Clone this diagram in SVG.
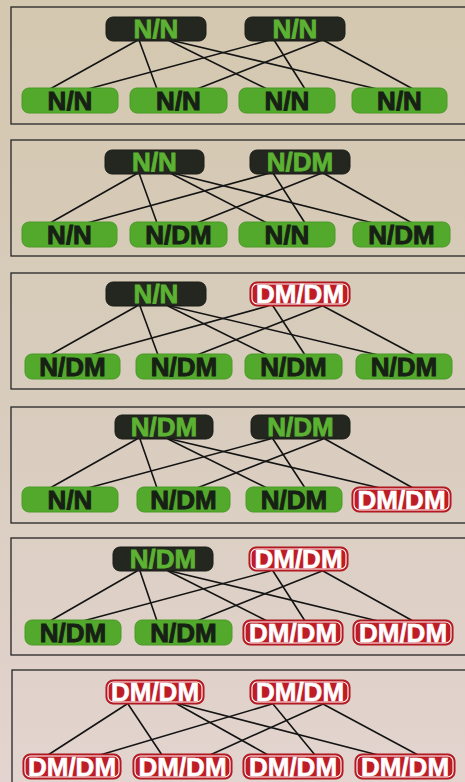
<svg xmlns="http://www.w3.org/2000/svg" width="465" height="782" viewBox="0 0 465 782">
<defs>
<linearGradient id="bg" x1="0" y1="0" x2="0" y2="1">
<stop offset="0" stop-color="#d4c8b0"/>
<stop offset="0.5" stop-color="#d8ccbd"/>
<stop offset="1" stop-color="#e3d4cf"/>
</linearGradient>
</defs>
<style>
.frame{fill:none;stroke:#262626;stroke-width:1.3}
.dk{fill:#23271f;stroke:#1a1d17;stroke-width:1}
.gr{fill:#52a92b;stroke:#4a9a26;stroke-width:1}
.rd{fill:#bf1d26;stroke:#a8141c;stroke-width:1}
.rin{fill:none;stroke:#ffffff;stroke-width:1.1}
text{font-family:"Liberation Sans",Arial,sans-serif;font-weight:bold;font-size:26px;text-anchor:middle}
.tg{fill:#5cb232;stroke:#5cb232;stroke-width:0.8}
.td{fill:#172015;stroke:#172015;stroke-width:0.9}
.tw{fill:#ffffff;stroke:#ffffff;stroke-width:0.6}
#connectors line{stroke:#141414;stroke-width:1.6;stroke-linecap:round}
</style>
<rect x="0" y="0" width="465" height="782" fill="url(#bg)"/>
<g id="frames">
<rect class="frame" x="11" y="7" width="470" height="117"/>
<rect class="frame" x="11" y="140" width="470" height="116"/>
<rect class="frame" x="11" y="273" width="470" height="116"/>
<rect class="frame" x="11" y="407" width="470" height="116"/>
<rect class="frame" x="11" y="538" width="470" height="117"/>
<rect class="frame" x="12" y="670" width="470" height="130"/>
</g>
<g id="connectors">
<line x1="138" y1="40" x2="50" y2="89"/>
<line x1="139" y1="40" x2="157" y2="89"/>
<line x1="168" y1="40" x2="267" y2="89"/>
<line x1="170" y1="40" x2="377" y2="89"/>
<line x1="270" y1="40" x2="88" y2="89"/>
<line x1="274" y1="40" x2="305" y2="89"/>
<line x1="322" y1="40" x2="197" y2="89"/>
<line x1="323" y1="40" x2="413" y2="89"/>

<line x1="138" y1="173" x2="50" y2="223"/>
<line x1="139" y1="173" x2="157" y2="223"/>
<line x1="170" y1="173" x2="267" y2="223"/>
<line x1="172" y1="173" x2="373" y2="223"/>
<line x1="270" y1="173" x2="87" y2="223"/>
<line x1="273" y1="173" x2="305" y2="223"/>
<line x1="322" y1="173" x2="197" y2="223"/>
<line x1="323" y1="173" x2="412" y2="223"/>

<line x1="137" y1="306" x2="50" y2="355"/>
<line x1="140" y1="306" x2="158" y2="355"/>
<line x1="168" y1="306" x2="267" y2="355"/>
<line x1="170" y1="306" x2="378" y2="355"/>
<line x1="268" y1="306" x2="90" y2="355"/>
<line x1="273" y1="306" x2="305" y2="355"/>
<line x1="322" y1="306" x2="197" y2="355"/>
<line x1="323" y1="306" x2="415" y2="355"/>

<line x1="137" y1="439" x2="50" y2="488"/>
<line x1="140" y1="439" x2="157" y2="488"/>
<line x1="168" y1="439" x2="267" y2="488"/>
<line x1="170" y1="439" x2="380" y2="488"/>
<line x1="270" y1="439" x2="88" y2="488"/>
<line x1="273" y1="439" x2="305" y2="488"/>
<line x1="323" y1="439" x2="197" y2="488"/>
<line x1="325" y1="439" x2="413" y2="488"/>

<line x1="137" y1="571" x2="50" y2="621"/>
<line x1="140" y1="571" x2="157" y2="621"/>
<line x1="168" y1="571" x2="267" y2="621"/>
<line x1="170" y1="571" x2="378" y2="621"/>
<line x1="270" y1="571" x2="83" y2="621"/>
<line x1="273" y1="571" x2="305" y2="621"/>
<line x1="322" y1="571" x2="197" y2="621"/>
<line x1="323" y1="571" x2="413" y2="621"/>

<line x1="127" y1="704" x2="48" y2="755"/>
<line x1="128" y1="704" x2="162" y2="755"/>
<line x1="177" y1="704" x2="268" y2="755"/>
<line x1="180" y1="704" x2="378" y2="755"/>
<line x1="272" y1="704" x2="100" y2="755"/>
<line x1="273" y1="704" x2="315" y2="755"/>
<line x1="323" y1="704" x2="210" y2="755"/>
<line x1="323" y1="704" x2="418" y2="755"/>
</g>

<!-- Panel 1 -->
<g id="p1-top1"><rect class="dk" x="106" y="17" width="100" height="24" rx="7"/><text class="tg" x="156" y="38">N/N</text></g>
<g id="p1-top2"><rect class="dk" x="245" y="17" width="100" height="24" rx="7"/><text class="tg" x="295" y="38">N/N</text></g>
<g id="p1-b1"><rect class="gr" x="22" y="88" width="96" height="25" rx="7"/><text class="td" x="70" y="110">N/N</text></g>
<g id="p1-b2"><rect class="gr" x="130" y="88" width="97" height="25" rx="7"/><text class="td" x="178.5" y="110">N/N</text></g>
<g id="p1-b3"><rect class="gr" x="239" y="88" width="96" height="25" rx="7"/><text class="td" x="287" y="110">N/N</text></g>
<g id="p1-b4"><rect class="gr" x="352" y="88" width="95" height="25" rx="7"/><text class="td" x="399.5" y="110">N/N</text></g>

<!-- Panel 2 -->
<g id="p2-top1"><rect class="dk" x="105" y="150" width="99" height="24" rx="7"/><text class="tg" x="154.5" y="171">N/N</text></g>
<g id="p2-top2"><rect class="dk" x="250" y="150" width="100" height="24" rx="7"/><text class="tg" x="300" y="171">N/DM</text></g>
<g id="p2-b1"><rect class="gr" x="22" y="222" width="95" height="25" rx="7"/><text class="td" x="69.5" y="244">N/N</text></g>
<g id="p2-b2"><rect class="gr" x="130" y="222" width="97" height="25" rx="7"/><text class="td" x="178.5" y="244">N/DM</text></g>
<g id="p2-b3"><rect class="gr" x="239" y="222" width="96" height="25" rx="7"/><text class="td" x="287" y="244">N/N</text></g>
<g id="p2-b4"><rect class="gr" x="353" y="222" width="97" height="25" rx="7"/><text class="td" x="401.5" y="244">N/DM</text></g>

<!-- Panel 3 -->
<g id="p3-top1"><rect class="dk" x="106" y="282" width="100" height="24" rx="7"/><text class="tg" x="156" y="303">N/N</text></g>
<g id="p3-top2"><rect class="rd" x="250" y="282" width="100" height="24" rx="7"/><rect class="rin" x="252" y="284" width="96" height="20" rx="5.5"/><text class="tw" x="300" y="303">DM/DM</text></g>
<g id="p3-b1"><rect class="gr" x="25" y="354" width="95" height="25" rx="7"/><text class="td" x="72.5" y="376">N/DM</text></g>
<g id="p3-b2"><rect class="gr" x="136" y="354" width="96" height="25" rx="7"/><text class="td" x="184" y="376">N/DM</text></g>
<g id="p3-b3"><rect class="gr" x="245" y="354" width="97" height="25" rx="7"/><text class="td" x="293.5" y="376">N/DM</text></g>
<g id="p3-b4"><rect class="gr" x="356" y="354" width="96" height="25" rx="7"/><text class="td" x="404" y="376">N/DM</text></g>

<!-- Panel 4 -->
<g id="p4-top1"><rect class="dk" x="115" y="415" width="98" height="24" rx="7"/><text class="tg" x="164" y="436">N/DM</text></g>
<g id="p4-top2"><rect class="dk" x="251" y="415" width="99" height="24" rx="7"/><text class="tg" x="300.5" y="436">N/DM</text></g>
<g id="p4-b1"><rect class="gr" x="22" y="487" width="96" height="25" rx="7"/><text class="td" x="70" y="509">N/N</text></g>
<g id="p4-b2"><rect class="gr" x="137" y="487" width="93" height="25" rx="7"/><text class="td" x="183.5" y="509">N/DM</text></g>
<g id="p4-b3"><rect class="gr" x="246" y="487" width="96" height="25" rx="7"/><text class="td" x="294" y="509">N/DM</text></g>
<g id="p4-b4"><rect class="rd" x="352" y="487" width="99" height="25" rx="7"/><rect class="rin" x="354" y="489" width="95" height="21" rx="5.5"/><text class="tw" x="401.5" y="509">DM/DM</text></g>

<!-- Panel 5 -->
<g id="p5-top1"><rect class="dk" x="113" y="547" width="100" height="24" rx="7"/><text class="tg" x="163" y="568">N/DM</text></g>
<g id="p5-top2"><rect class="rd" x="249" y="547" width="99" height="24" rx="7"/><rect class="rin" x="251" y="549" width="95" height="20" rx="5.5"/><text class="tw" x="298.5" y="568">DM/DM</text></g>
<g id="p5-b1"><rect class="gr" x="25" y="620" width="96" height="25" rx="7"/><text class="td" x="73" y="642">N/DM</text></g>
<g id="p5-b2"><rect class="gr" x="135" y="620" width="97" height="25" rx="7"/><text class="td" x="183.5" y="642">N/DM</text></g>
<g id="p5-b3"><rect class="rd" x="243" y="620" width="100" height="25" rx="7"/><rect class="rin" x="245" y="622" width="96" height="21" rx="5.5"/><text class="tw" x="293" y="642">DM/DM</text></g>
<g id="p5-b4"><rect class="rd" x="353" y="620" width="100" height="25" rx="7"/><rect class="rin" x="355" y="622" width="96" height="21" rx="5.5"/><text class="tw" x="403" y="642">DM/DM</text></g>

<!-- Panel 6 -->
<g id="p6-top1"><rect class="rd" x="106" y="680" width="98" height="24" rx="7"/><rect class="rin" x="108" y="682" width="94" height="20" rx="5.5"/><text class="tw" x="155" y="701">DM/DM</text></g>
<g id="p6-top2"><rect class="rd" x="250" y="680" width="100" height="24" rx="7"/><rect class="rin" x="252" y="682" width="96" height="20" rx="5.5"/><text class="tw" x="300" y="701">DM/DM</text></g>
<g id="p6-b1"><rect class="rd" x="23" y="754" width="98" height="25" rx="7"/><rect class="rin" x="25" y="756" width="94" height="21" rx="5.5"/><text class="tw" x="72" y="776">DM/DM</text></g>
<g id="p6-b2"><rect class="rd" x="133" y="754" width="99" height="25" rx="7"/><rect class="rin" x="135" y="756" width="95" height="21" rx="5.5"/><text class="tw" x="182.5" y="776">DM/DM</text></g>
<g id="p6-b3"><rect class="rd" x="243" y="754" width="100" height="25" rx="7"/><rect class="rin" x="245" y="756" width="96" height="21" rx="5.5"/><text class="tw" x="293" y="776">DM/DM</text></g>
<g id="p6-b4"><rect class="rd" x="355" y="754" width="100" height="25" rx="7"/><rect class="rin" x="357" y="756" width="96" height="21" rx="5.5"/><text class="tw" x="405" y="776">DM/DM</text></g>
</svg>
